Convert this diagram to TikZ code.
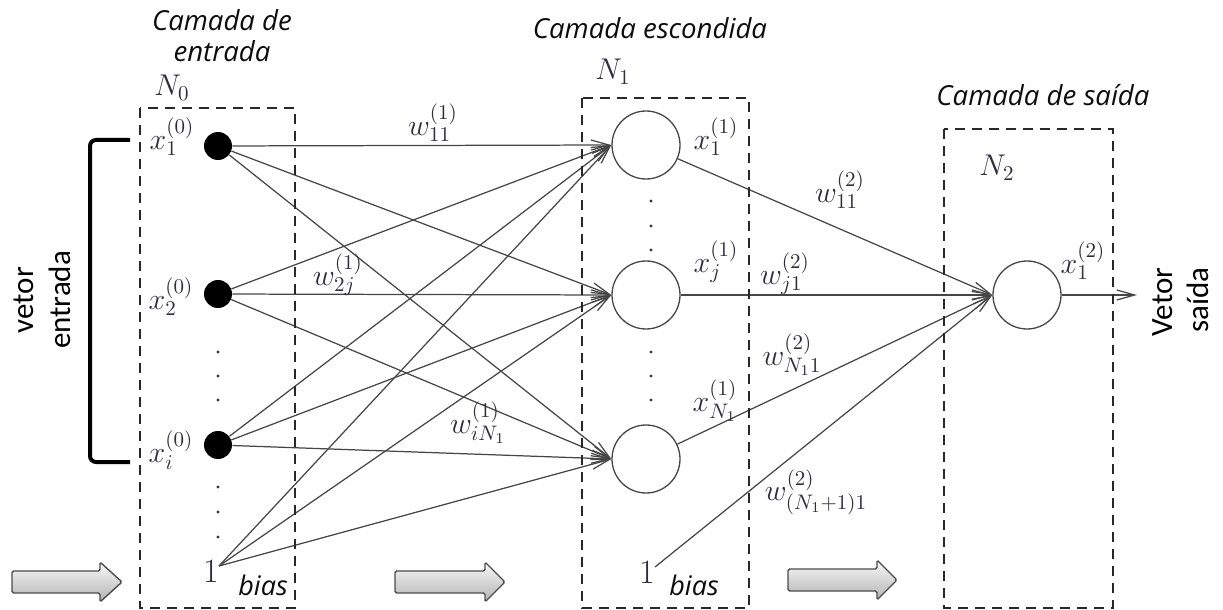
\RequirePackage{fix-cm}
\documentclass[tikz,border=0pt]{standalone}
\usepackage{fontspec}
\usetikzlibrary{arrows.meta}
\newfontfamily\titlefont{Open Sans}
\newfontfamily\carl{Carlito}
\definecolor{labc}{RGB}{45,45,60}
\definecolor{linec}{RGB}{70,70,70}
\definecolor{boxc}{RGB}{40,40,40}
\begin{document}
\begin{tikzpicture}[x=0.5pt,y=-0.5pt,
  inp/.style={circle, fill=black, minimum size=14pt, inner sep=0pt},
  hid/.style={circle, draw=linec, line width=0.65pt, minimum size=34pt, inner sep=0pt},
  conn/.style={draw=linec, line width=0.62pt, -{Straight Barb[length=9pt,width=5pt]}},
  layerbox/.style={draw=boxc, line width=1.2pt, dash pattern=on 5pt off 3.5pt},
  ttl/.style={font=\titlefont\itshape\fontsize{13.8}{15.5}\selectfont, text=black!95, align=center, inner sep=0pt},
  lbl/.style={text=labc, inner sep=0pt, font=\fontsize{15}{17}\selectfont},
  onel/.style={text=labc, inner sep=0pt, font=\fontsize{17}{19}\selectfont},
  biasl/.style={font=\titlefont\itshape\fontsize{13.5}{15}\selectfont, text=black!95, inner sep=0pt},
  vtxt/.style={font=\carl\fontsize{15.5}{17}\selectfont, rotate=90, anchor=base, inner sep=0pt},
  blockarrow/.style={draw=black!70, line width=0.7pt, top color=gray!5, bottom color=gray!60, rounded corners=0.8pt},
  bracket/.style={draw=black, line width=2pt, rounded corners=3pt},
  dotm/.style={fill=black!80}
]
\useasboundingbox (0,0) rectangle (1223,610);

% titles
\node[ttl] (t0) at (222,36) {Camada de\\entrada};
\node[ttl] (t1) at (650,28) {Camada escondida};
\node[ttl] (t2) at (1043,95) {Camada de saída};

% layer names
\node[lbl] (n0) at (172,88) {$N_0$};
\node[lbl] (n1) at (613,72) {$N_1$};
\node[lbl] (n2) at (997,168) {$N_2$};

% neurons
\node[inp] (x1) at (218,146) {};
\node[inp] (x2) at (218,294) {};
\node[inp] (xi) at (218,445) {};
\node[onel] (one0) at (211,572) {$1$};
\coordinate (b0) at (219,566);
\node[hid] (h1) at (646,145) {};
\node[hid] (h2) at (646,295) {};
\node[hid] (h3) at (646,459) {};
\node[onel] (one1) at (647,573) {$1$};
\coordinate (b1) at (655,567);
\node[hid] (o) at (1027,295) {};
\coordinate (oend) at (1137,295);

% connections
\foreach \s in {x1,x2,xi,b0}{
  \foreach \t in {h1,h2,h3}{
    \draw[conn] (\s) -- (\t.west);
  }
}
\foreach \s in {h1,h2,h3,b1}{
  \draw[conn] (\s) -- (o.west);
}
\draw[conn] (o) -- (oend);

% dashed layer boxes
\draw[layerbox] (140,108) rectangle (295,608);
\draw[layerbox] (582,98) rectangle (749,608);
\draw[layerbox] (944,129) rectangle (1113,608);

% dots
\foreach \y in {352,376,400,487,512,537}{ \fill[dotm] (218,\y) circle (0.85pt); }
\foreach \y in {201,226,250,352,376,400}{ \fill[dotm] (651,\y) circle (0.85pt); }

% neuron labels
\node[lbl] (lx1) at (172,137) {$x_1^{(0)}$};
\node[lbl] (lx2) at (171,297) {$x_2^{(0)}$};
\node[lbl] (lxi) at (171,450) {$x_i^{(0)}$};
\node[lbl] (lh1) at (716,137) {$x_1^{(1)}$};
\node[lbl] (lh2) at (716,262) {$x_j^{(1)}$};
\node[lbl] (lh3) at (715,401) {$x_{N_1}^{(1)}$};
\node[lbl] (lo) at (1083,261) {$x_1^{(2)}$};

% weight labels
\node[lbl] (w1) at (433,123) {$w_{11}^{(1)}$};
\node[lbl] (w2) at (338,275) {$w_{2j}^{(1)}$};
\node[lbl] (w3) at (478,423) {$w_{iN_1}^{(1)}$};
\node[lbl] (w4) at (840,190) {$w_{11}^{(2)}$};
\node[lbl] (w5) at (785,274) {$w_{j1}^{(2)}$};
\node[lbl] (w6) at (792,355) {$w_{N_1 1}^{(2)}$};
\node[lbl] (w7) at (816,492) {$w_{(N_1+1)1}^{(2)}$};

% bias words
\node[biasl] (bias0) at (263,585) {bias};
\node[biasl] (bias1) at (694,585) {bias};

% input vector bracket and texts
\draw[bracket] (130,140) -- (90,140) -- (90,462) -- (130,462);
\node[vtxt] (v1) at (33,300) {vetor};
\node[vtxt] (v2) at (70,300) {entrada};
\node[vtxt] (v3) at (1172,302) {Vetor};
\node[vtxt] (v4) at (1208,300) {saída};

% flow arrows
\draw[blockarrow] (12,571) -- (100,571) -- (100,562) -- (122,582) -- (100,602) -- (100,593) -- (12,593) -- cycle;
\draw[blockarrow] (395,571) -- (485,571) -- (485,562) -- (505,582) -- (485,602) -- (485,593) -- (395,593) -- cycle;
\draw[blockarrow] (788,569) -- (877,569) -- (877,560) -- (897,580) -- (877,600) -- (877,591) -- (788,591) -- cycle;
\end{tikzpicture}
\end{document}
